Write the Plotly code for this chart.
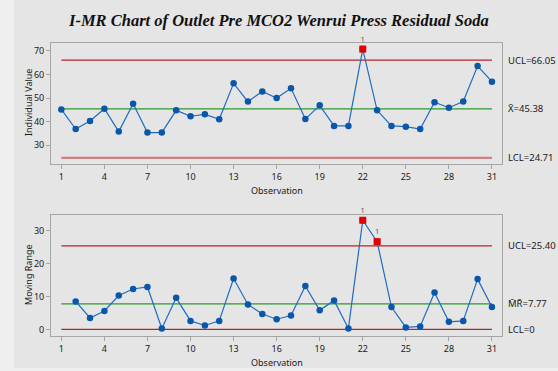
import plotly.graph_objects as go

W, H = 558, 371

observations = list(range(1, 32))
individual = [45.2, 36.9, 40.3, 45.5, 35.8, 47.6, 35.4, 35.4, 44.8, 42.3,
              43.1, 41.0, 56.2, 48.5, 52.8, 50.0, 54.1, 41.1, 46.9, 38.2,
              38.2, 70.7, 44.8, 38.2, 37.9, 36.9, 48.2, 45.9, 48.5, 63.5, 56.9]
mr_obs = list(range(2, 32))
moving_range = [8.5, 3.5, 5.6, 10.3, 12.3, 12.9, 0.3, 9.6, 2.6, 1.2,
                2.6, 15.5, 7.6, 4.7, 3.1, 4.2, 13.2, 5.8, 8.8, 0.3,
                33.2, 26.7, 6.8, 0.6, 0.9, 11.2, 2.3, 2.6, 15.3, 6.8]

i_limits = {"UCL": 66.05, "CL": 45.38, "LCL": 24.71}
mr_limits = {"UCL": 25.40, "CL": 7.77, "LCL": 0.0}
x_ticks = [1, 4, 7, 10, 13, 16, 19, 22, 25, 28, 31]
i_ticks = [30, 40, 50, 60, 70]
mr_ticks = [0, 10, 20, 30]

BLUE = "#0a56a8"
LINE_BLUE = "#1f6cc0"
RED_LINE = "#b3262a"
LCL_PINK = "#cf8080"
GREEN = "#2b9a2b"
FLAG_RED = "#e00000"
FONT = "Noto Sans"
TEXT = "#1a1a1a"


def px_x(p):
    return p / W


def px_y(p):
    return 1 - p / H


fig = go.Figure()


def add_chart(xs, ys, limits, xa, ya, lcl_color, lcl_width):
    # control limit lines spanning the first to last observation
    for key, col, wid in (("UCL", RED_LINE, 1.3), ("CL", GREEN, 1.3), ("LCL", lcl_color, lcl_width)):
        fig.add_trace(go.Scatter(x=[1, 31], y=[limits[key]] * 2, mode="lines",
                                 line=dict(color=col, width=wid),
                                 xaxis=xa, yaxis=ya, hoverinfo="skip"))
    fig.add_trace(go.Scatter(x=xs, y=ys, mode="lines+markers",
                             line=dict(color=LINE_BLUE, width=1.2),
                             marker=dict(color=BLUE, size=6.5, symbol="circle"),
                             xaxis=xa, yaxis=ya))
    out_x = [x for x, y in zip(xs, ys) if y > limits["UCL"] or y < limits["LCL"]]
    out_y = [y for y in ys if y > limits["UCL"] or y < limits["LCL"]]
    fig.add_trace(go.Scatter(x=out_x, y=out_y, mode="markers+text", cliponaxis=False,
                             marker=dict(color=FLAG_RED, size=7, symbol="square"),
                             text=["1"] * len(out_x), textposition="top center",
                             textfont=dict(family=FONT, size=7.5, color="#555555"),
                             xaxis=xa, yaxis=ya))


add_chart(observations, individual, i_limits, "x", "y", LCL_PINK, 2.2)
add_chart(mr_obs, moving_range, mr_limits, "x2", "y2", RED_LINE, 1.3)

axis_common = dict(showgrid=False, zeroline=False, showline=True, linecolor="#a6a6a6",
                   linewidth=1, mirror=True, ticks="outside", ticklen=4, tickcolor="#a6a6a6",
                   tickfont=dict(family=FONT, size=9, color=TEXT))

x_dom = [px_x(51), px_x(502)]
fig.update_layout(
    width=W, height=H, margin=dict(l=0, r=0, t=0, b=0),
    paper_bgcolor="#efefef", plot_bgcolor="white", showlegend=False,
    xaxis=dict(domain=x_dom, range=[0.28, 31.7], tickvals=x_ticks, anchor="y", **axis_common),
    yaxis=dict(domain=[px_y(164), px_y(42.7)], range=[22.1, 73.4], tickvals=i_ticks,
               anchor="x", **axis_common),
    xaxis2=dict(domain=x_dom, range=[0.28, 31.7], tickvals=x_ticks, anchor="y2", **axis_common),
    yaxis2=dict(domain=[px_y(336), px_y(215)], range=[-2.0, 34.8], tickvals=mr_ticks,
                anchor="x2", **axis_common),
)

# grey panel behind the charts
fig.add_shape(type="rect", xref="paper", yref="paper", x0=px_x(14), x1=1, y0=px_y(368), y1=1,
              fillcolor="#e5e5e5", line=dict(width=0), layer="below")

ann = []
ann.append(dict(text="<b><i>I-MR Chart of Outlet Pre MCO2 Wenrui Press Residual Soda</i></b>",
                x=px_x(278), y=px_y(20), xref="paper", yref="paper", showarrow=False,
                xanchor="center", yanchor="middle",
                font=dict(family="Liberation Serif", size=16.5, color="#111111")))
for yy in (190, 362):
    ann.append(dict(text="Observation", x=px_x(277), y=px_y(yy), xref="paper", yref="paper",
                    xanchor="center", yanchor="middle",
                    showarrow=False, font=dict(family=FONT, size=9, color=TEXT)))
for text, yy in (("Individual Value", 103), ("Moving Range", 275)):
    ann.append(dict(text=text, x=px_x(28), y=px_y(yy), xref="paper", yref="paper",
                    xanchor="center", yanchor="middle", showarrow=False, textangle=-90,
                    font=dict(family=FONT, size=9, color=TEXT)))

label_font = dict(family=FONT, size=9.5, color=TEXT)
for text, val, ya in (
    (f"UCL={i_limits['UCL']:.2f}", i_limits["UCL"], "y"),
    (f"X\u0304={i_limits['CL']:.2f}", i_limits["CL"], "y"),
    (f"LCL={i_limits['LCL']:.2f}", i_limits["LCL"], "y"),
    (f"UCL={mr_limits['UCL']:.2f}", mr_limits["UCL"], "y2"),
    (f"M\u0304R\u0304={mr_limits['CL']:.2f}", mr_limits["CL"], "y2"),
    ("LCL=0", mr_limits["LCL"], "y2"),
):
    ann.append(dict(text=text, x=px_x(506), y=val, xref="paper", yref=ya, xanchor="left",
                    yanchor="middle", showarrow=False, font=label_font))

fig.update_layout(annotations=ann)
fig.write_html("out.html")
